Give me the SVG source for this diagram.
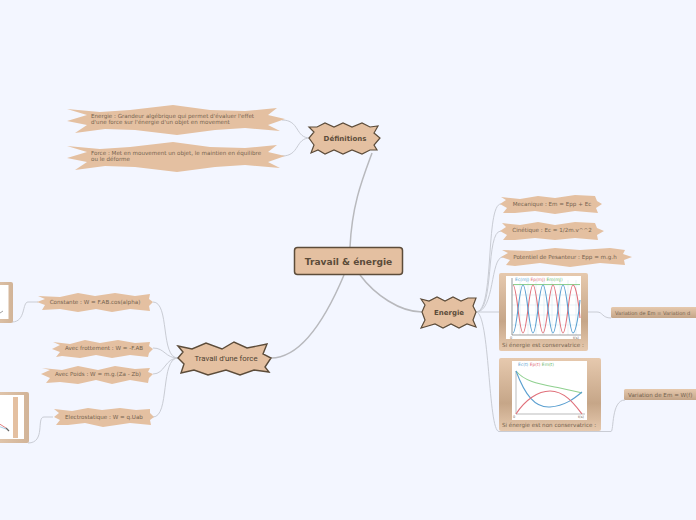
<svg xmlns="http://www.w3.org/2000/svg" width="696" height="520" viewBox="0 0 696 520">
<defs>
<linearGradient id="g" x1="0" y1="0" x2="0" y2="1"><stop offset="0" stop-color="#e6c9ae"/><stop offset="0.62" stop-color="#c6a688"/><stop offset="1" stop-color="#e6c9ae"/></linearGradient>
<linearGradient id="h" x1="0" y1="0" x2="0" y2="1"><stop offset="0" stop-color="#e6c9ae"/><stop offset="1" stop-color="#c4a588"/></linearGradient>
<linearGradient id="r" x1="0" y1="0" x2="1" y2="0"><stop offset="0" stop-color="#e8cfb6"/><stop offset="1" stop-color="#d2b498"/></linearGradient>
</defs>
<style>
text{font-family:"DejaVu Sans",sans-serif;fill:#75634f;}
.s{fill:#e4c0a1;}
.m{fill:#e4c0a1;stroke:#5c4c3a;stroke-width:1.2;}
.c{fill:none;stroke:#c9ccd4;stroke-width:1;}
.t{fill:none;stroke:#b8b9bd;stroke-width:1.5;}
.f{font-size:5.6px;}
.d{fill:#5c4c3a;}
.w{fill:#fff;}
.grid{stroke:#cfe6ee;stroke-width:.5;fill:none;}
.l{fill:none;stroke-width:1.1;}
</style>
<rect width="696" height="520" fill="#f3f6ff"/>
<g id="connectors">
<path class="t" d="M350 247C352 205 362 180 372 153"/>
<path class="t" d="M344 275C325 320 300 358 271 358"/>
<path class="t" d="M360 275C375 295 400 312 422 312"/>
<path class="c" d="M282 120C300 120 295 138 310 138"/>
<path class="c" d="M282 156C300 156 295 138 310 138"/>
<path class="c" d="M153 302C170 302 160 358 178 358"/>
<path class="c" d="M153 348C165 348 165 358 178 358"/>
<path class="c" d="M153 374C165 374 165 358 178 358"/>
<path class="c" d="M153 417C170 417 160 358 178 358"/>
<path class="c" d="M38 302H28C22 302 26 322 12 322"/>
<path class="c" d="M53 417H44C36 417 46 443 28 443"/>
<path class="c" d="M476 312C495 312 485 204 501 204"/>
<path class="c" d="M476 312C495 312 485 231 501 231"/>
<path class="c" d="M476 312C495 312 490 257 503 257"/>
<path class="c" d="M476 312H499"/>
<path class="c" d="M476 312C490 312 488 431.500 499 431.500H611C614 431.500 611 400 625 400"/>
<path class="c" d="M588 312H597C603 312 602 318 611 318"/>
</g>
<g id="root"><rect x="294.500" y="247.500" width="108" height="27" rx="3" fill="#e4c0a1" stroke="#5c4c3a" stroke-width="1.500"/><text x="348.500" y="265" text-anchor="middle" font-size="9.100" font-weight="bold" class="d">Travail &amp; énergie</text></g>
<g id="definitions"><polygon class="m" points="309,127 317,127 325,123 334,127 343,123 352,127 362,123 370,127 378,126 374,133 380,138 374,145 377,150 370,150 362,154 352,150 343,154 334,150 325,154 318,150 311,153 314,145 309,138 314,132"/><text x="345" y="141" text-anchor="middle" font-size="7" font-weight="bold" class="d">Définitions</text></g>
<g id="energie"><polygon class="m" points="421,299 429,301 437,297 445,301 453,297 461,301 468,298 476,298 473,306 476,312 473,320 476,327 467,324 459,328 451,324 443,328 435,324 428,326 421,328 425,320 422,312 425,305"/><text x="449" y="315" text-anchor="middle" font-size="7" font-weight="bold" class="d">Energie</text></g>
<g id="travail"><polygon class="m" style="stroke-width:1.400" points="178,346 192,349 206,343 222,349 234,342 247,348 267,344 263,354 271,358 265,367 269,372 254,370 240,375 226,370 208,375 194,370 181,373 184,364 178,358 183,352"/><text x="226" y="361" text-anchor="middle" font-size="7.800" style="font-family:Roboto,sans-serif;fill:#4e4232">Travail d'une force</text></g>
<g id="n1"><polygon class="s" points="67,109 100,112 130,110 173,105 210,110 245,111 277,108 268,115 285,119 268,125 280,131 245,128 215,130 177,135 135,130 105,129 75,133 87,125 67,121 87,115"/><text class="f"><tspan x="91" y="118">Energie : Grandeur algébrique qui permet d'évaluer l'effet</tspan><tspan x="91" y="124">d'une force sur l'énergie d'un objet en movement</tspan></text></g>
<g id="n2"><polygon class="s" points="67,146 100,149 130,147 173,142 210,147 245,148 277,145 268,152 285,156 268,162 280,168 245,165 215,167 177,172 135,167 105,166 75,170 87,162 67,158 87,152"/><text class="f"><tspan x="91" y="155">Force : Met en mouvement un objet, le maintien en équilibre</tspan><tspan x="91" y="161">ou le déforme</tspan></text></g>
<g id="n3"><polygon class="s" points="38,296 60,297 78,293 95,296 115,293 135,296 150,294 149,299 153,302 149,306 150,311 130,309 112,312 96,309 78,312 60,309 42,310 45,305 37,302 45,299"/><text x="95" y="304" text-anchor="middle" class="f">Constante : W = F.AB.cos(alpha)</text></g>
<g id="n4"><polygon class="s" points="53,342 70,344 85,340 100,343 118,340 135,343 150,342 149,346 153,349 149,353 148,357 130,355 112,358 96,355 80,358 62,356 56,357 60,352 52,349 60,345"/><text x="104" y="350" text-anchor="middle" class="f">Avec frottement : W = -F.AB</text></g>
<g id="n5"><polygon class="s" points="42,368 62,370 78,366 98,370 115,366 135,369 150,368 148,372 153,374 149,378 148,383 130,380 112,384 96,380 78,384 60,382 46,383 50,378 41,374 50,370"/><text x="98" y="376" text-anchor="middle" class="f">Avec Poids : W = m.g.(Za - Zb)</text></g>
<g id="n6"><polygon class="s" points="54,409 72,411 88,408 102,410 120,408 136,410 150,409 150,413 154,417 150,420 151,425 130,423 103,427 85,423 68,425 56,425 60,420 54,417 59,413"/><text x="104" y="419" text-anchor="middle" class="f">Electrostatique : W = q.Uab</text></g>
<g id="n7"><polygon class="s" points="501,197 520,199 538,196 555,198 575,195 595,196 597,201 602,204 596,208 598,213 575,211 555,214 535,211 515,213 503,213 507,208 500,204 506,200"/><text x="552" y="206" text-anchor="middle" class="f">Mecanique : Em = Epp + Ec</text></g>
<g id="n8"><polygon class="s" points="502,223 520,225 538,222 555,225 575,222 595,223 597,228 604,231 597,235 598,240 575,238 555,240 535,238 515,240 503,240 507,235 500,231 506,227"/><text x="552" y="232" text-anchor="middle" class="f">Cinétique : Ec = 1/2m.v^^2</text></g>
<g id="n9"><polygon class="s" points="502,250 530,251 555,248 580,250 610,248 625,250 623,254 632,257 624,260 625,265 600,263 570,267 540,263 515,266 506,265 510,260 501,257 508,253"/><text x="565" y="259" text-anchor="middle" class="f">Potentiel de Pesanteur : Epp = m.g.h</text></g>
<g id="n10"><rect x="499" y="273" width="89" height="78" rx="2" fill="url(#g)"/><rect x="506" y="276" width="75" height="63" class="w"/>
<path class="grid" d="M512 280V335M520 280V335M528 280V335M536 280V335M544 280V335M552 280V335M560 280V335M568 280V335M576 280V335M512 285H580M512 295H580M512 305H580M512 315H580M512 325H580"/>
<path d="M513 284.500H580" stroke="#8fd08f" stroke-width="1.200" fill="none"/>
<path class="l" stroke="#e0707a" d="M513 285C517 285 519 333 523 333S529 285 533 285S539 333 543 333S549 285 553 285S559 333 563 333S569 285 573 285C576 285 579 305 580 318"/>
<path class="l" stroke="#5a9fd0" d="M513 333C517 333 519 285 523 285S529 333 533 333S539 285 543 285S549 333 553 333S559 285 563 285S569 333 573 333C576 333 579 312 580 300"/>
<path d="M512 278V335H581" stroke="#777" stroke-width=".7" fill="none"/>
<text x="515" y="281" font-size="4.400" style="fill:#5a9fd0">Ec(mJ) <tspan style="fill:#e0707a">Ep(mJ)</tspan> <tspan style="fill:#6cb86c">Em(mJ)</tspan></text>
<text x="510" y="338.500" font-size="3.500">0</text><text x="573" y="338.500" font-size="3.500">t(s)</text>
<text x="543" y="347" text-anchor="middle" class="f">Si énergie est conservatrice :</text></g>
<g id="n11"><rect x="499" y="358" width="102" height="73" rx="2" fill="url(#g)"/><rect x="512" y="361" width="75" height="59" class="w"/>
<path d="M516 371V414H585" stroke="#bbb" stroke-width="1" fill="none"/>
<path class="l" stroke="#8fd08f" d="M516 371C525 382 540 384 560 388C570 390 577 392 582 393"/>
<path class="l" stroke="#5a9fd0" d="M516 371C525 395 535 408 550 407C565 406 575 398 582 392"/>
<path class="l" stroke="#e0707a" d="M516 414C525 400 538 391 550 391C565 391 575 405 582 414"/>
<text x="518" y="366" font-size="4.400" style="fill:#5a9fd0">Ec(t) <tspan style="fill:#e0707a">Ep(t)</tspan> <tspan style="fill:#6cb86c">Em(t)</tspan></text>
<text x="513" y="418" font-size="3.500">0</text><text x="578" y="418" font-size="3.500">t(s)</text>
<text x="549" y="427" text-anchor="middle" class="f">Si énergie est non conservatrice :</text></g>
<g id="n12"><rect x="611" y="307" width="90" height="11" rx="1.500" fill="url(#h)"/><text x="615" y="315" font-size="5.100">Variation de Em = Variation d</text></g>
<g id="n13"><rect x="624" y="389" width="80" height="11" rx="1.500" fill="url(#h)"/><text x="628" y="397" class="f">Variation de Em = W(f)</text></g>
<g id="n14"><rect x="-20" y="282" width="33" height="41" rx="2" fill="url(#r)"/><rect x="-20" y="285" width="28.500" height="34" class="w"/><path d="M0 313L3 311" stroke="#888" stroke-width=".8" fill="none"/></g>
<g id="n15"><rect x="-20" y="392" width="49" height="51" rx="2" fill="url(#r)"/><rect x="-20" y="395" width="44" height="44" class="w"/><rect x="13" y="397" width="5" height="41" fill="#e4c0a1"/><path d="M-2 423L6 428" stroke="#e08080" fill="none"/><path d="M-2 426L6 429" stroke="#a8cfe6" fill="none"/><path d="M6 428L9 431" stroke="#666" stroke-width="1.200" fill="none"/></g>
</svg>
